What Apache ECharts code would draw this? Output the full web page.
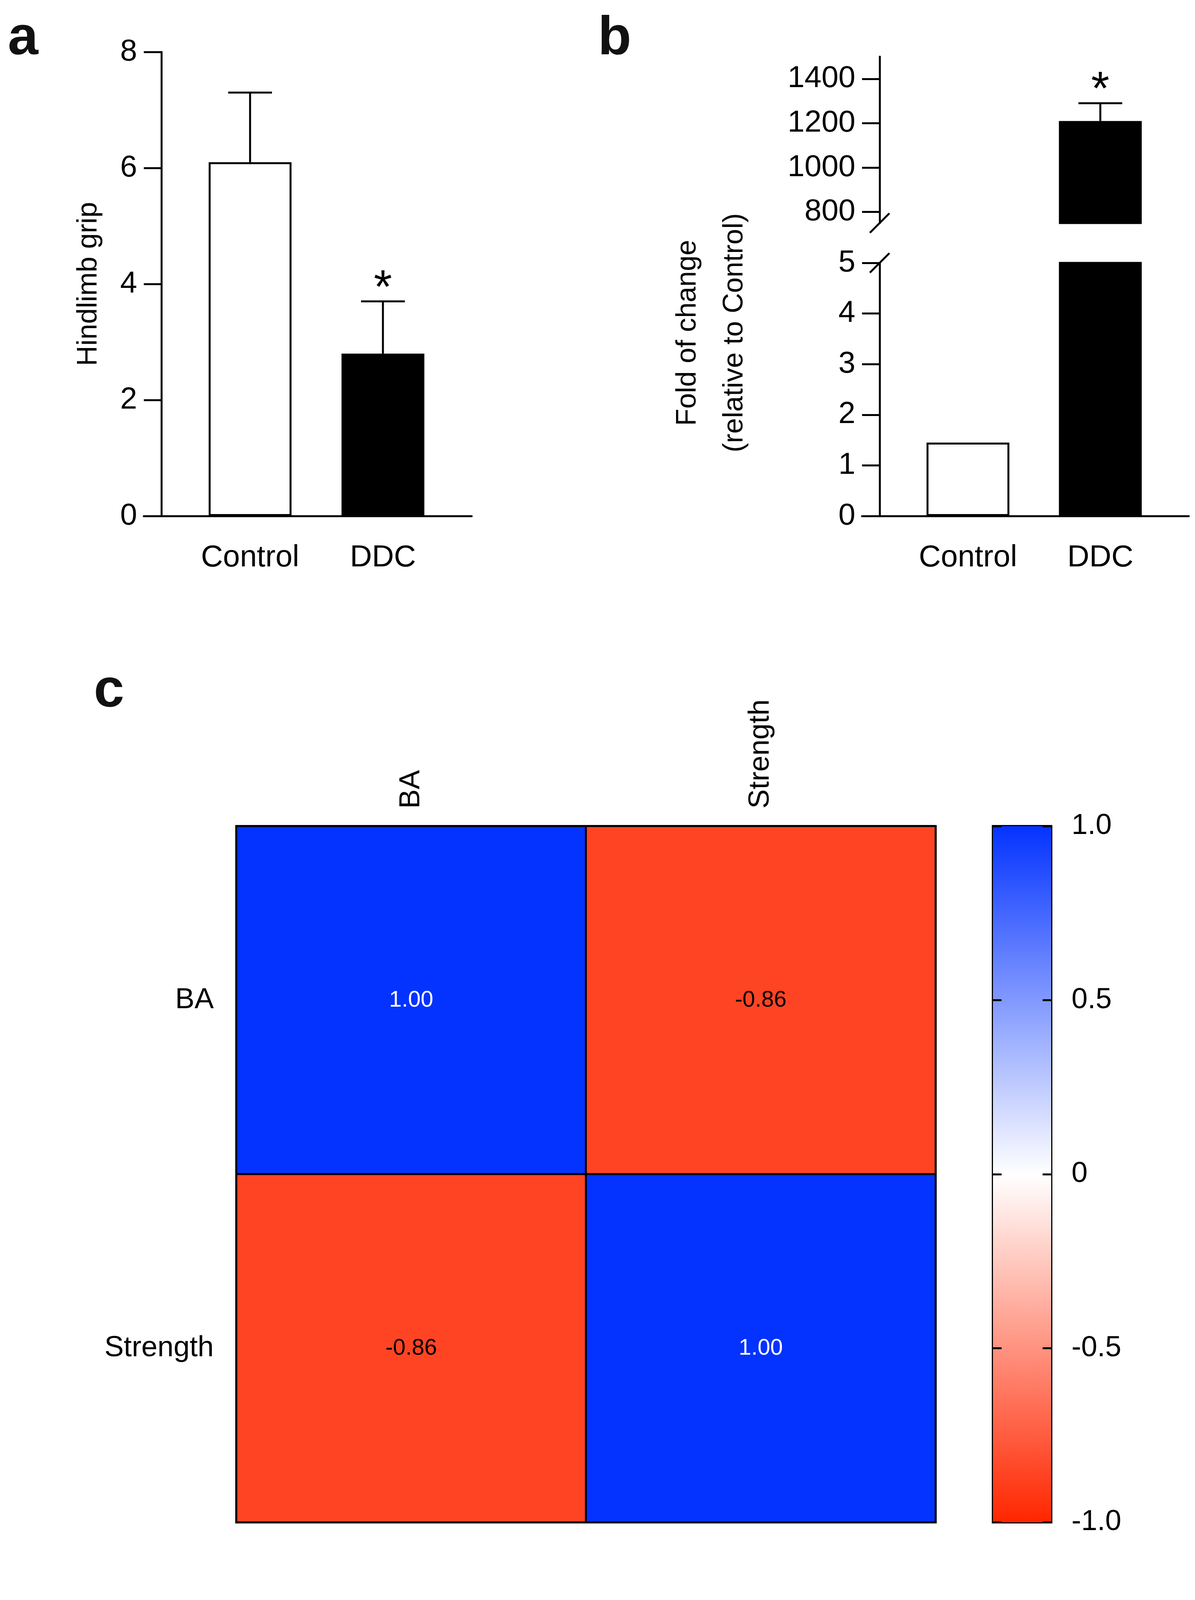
<!DOCTYPE html>
<html>
<head>
<meta charset="utf-8">
<title>Figure S3</title>
<script src="https://cdn.jsdelivr.net/npm/echarts@6/dist/echarts.min.js"></script>
<style>html,body{margin:0;padding:0;background:#fff}</style>
</head>
<body>
<div id="main" style="width:3058px;height:5131px"></div>
<script type="text/javascript">
// panel a
var groups = ['Control', 'DDC']
var gripMean = [6.1, 2.8]
var gripErr = [7.3, 3.7]
var gripStar = [false, true]
// panel b
var foldMean = [1.45, 1210]
var foldErr = [null, 1290]
var foldStar = [false, true]
var lowTicks = [0, 1, 2, 3, 4, 5]
var highTicks = [800, 1000, 1200, 1400]
// panel c
var corrNames = ['BA', 'Strength']
var corrVals = [[0, 0, 1.00], [1, 0, -0.86], [0, 1, -0.86], [1, 1, 1.00]]

var FONT = 'Liberation Sans'
var BLUE = '#0433FF', RED = '#FF2600'
var chart = echarts.init(document.getElementById('main'))

function barData(vals) {
    return vals.map(function (v, i) {
        return {value: [i + 1, v], itemStyle: {color: i == 0 ? '#fff' : '#000'}}
    })
}
function errData(m, e, s) {
    var out = []
    for (var i = 0; i < m.length; i++) if (e[i] != null) out.push([i + 1, m[i], e[i], s[i] ? 1 : 0])
    return out
}
function errItem(params, api) {
    var x = api.value(0)
    var p0 = api.coord([x, api.value(1)])
    var p1 = api.coord([x, api.value(2)])
    var st = {stroke: '#000', lineWidth: 5}
    var kids = [
        {type: 'line', shape: {x1: p0[0], y1: p0[1], x2: p1[0], y2: p1[1]}, style: st},
        {type: 'line', shape: {x1: p1[0] - 56, y1: p1[1], x2: p1[0] + 56, y2: p1[1]}, style: st}
    ]
    if (api.value(3)) kids.push({type: 'text', x: p1[0], y: p1[1] + 30,
        style: {text: '*', fontSize: 120, fontFamily: FONT, textAlign: 'center', textVerticalAlign: 'bottom', fill: '#000'}})
    return {type: 'group', children: kids}
}
function xCat(gi, show) {
    return {
        type: 'value', gridIndex: gi, min: 0.2, max: 2.668, show: show !== false,
        splitLine: {show: false},
        axisLine: {lineStyle: {color: '#000', width: 5}},
        axisTick: {show: false},
        axisLabel: {customValues: [1, 2], formatter: function (v) { return groups[Math.round(v) - 1] },
            fontSize: 78, fontFamily: FONT, color: '#000', margin: 68}
    }
}
function yVal(gi, min, max, ticks, extra) {
    var o = {
        type: 'value', gridIndex: gi, min: min, max: max, offset: -45,
        splitLine: {show: false},
        axisLine: {show: true, onZero: false, lineStyle: {color: '#000', width: 5}},
        axisTick: {show: true, customValues: ticks, length: 45, lineStyle: {color: '#000', width: 5}},
        axisLabel: {customValues: ticks, formatter: function (v) { return String(v) },
            fontSize: 78, fontFamily: FONT, color: '#000', margin: 62}
    }
    for (var k in extra) o[k] = extra[k]
    return o
}
var barStyle = {borderColor: '#000', borderWidth: 5}

function fmt(v) {
    if (v == 0) return '0'
    return Math.abs(v) == 1 ? v.toFixed(1) : String(v)
}

var option = {
    animation: false,
    backgroundColor: '#fff',
    textStyle: {fontFamily: FONT},
    grid: [
        {left: 368, width: 839, top: 133, height: 1188},             // a
        {left: 2206, width: 836, top: 673, height: 648},             // b low
        {left: 2206, width: 836, top: 145, height: 426},             // b high
        {left: 605, width: 1789, top: 2115, height: 1782, show: true, borderColor: '#000', borderWidth: 6}, // heatmap
        {left: 2541, width: 149, top: 2115, height: 1782, show: true, borderColor: '#000', borderWidth: 6}  // colorbar
    ],
    xAxis: [
        xCat(0), xCat(1), xCat(2, false),
        {type: 'category', gridIndex: 3, data: corrNames, position: 'top',
            axisLine: {show: false}, axisTick: {show: false},
            axisLabel: {rotate: -90, fontSize: 74, fontFamily: FONT, color: '#000', margin: 45}},
        {type: 'category', gridIndex: 4, data: ['c'], show: false}
    ],
    yAxis: [
        yVal(0, 0, 8, [0, 2, 4, 6, 8], {name: 'Hindlimb grip', nameLocation: 'middle', nameGap: 150,
            nameTextStyle: {fontSize: 72, fontFamily: FONT, color: '#000'}}),
        yVal(1, 0, 5, lowTicks),
        yVal(2, 750, 1500, highTicks),
        {type: 'category', gridIndex: 3, data: corrNames, inverse: true,
            axisLine: {show: false}, axisTick: {show: false},
            axisLabel: {fontSize: 74, fontFamily: FONT, color: '#000', margin: 58}},
        {type: 'value', gridIndex: 4, min: -1, max: 1, interval: 0.5, position: 'right', z: 10,
            splitLine: {show: false}, axisLine: {show: false},
            axisTick: {show: true, inside: true, length: 22, lineStyle: {color: '#000', width: 5}},
            axisLabel: {formatter: fmt, fontSize: 74, fontFamily: FONT, color: '#000', margin: 52}},
        {type: 'value', gridIndex: 4, min: -1, max: 1, interval: 0.5, position: 'left', z: 10,
            splitLine: {show: false}, axisLine: {show: false}, axisLabel: {show: false},
            axisTick: {show: true, inside: true, length: 22, lineStyle: {color: '#000', width: 5}}}
    ],
    visualMap: {show: false, min: -1, max: 1, seriesIndex: 6, inRange: {color: [RED, '#FFFFFF', BLUE]}},
    series: [
        {type: 'bar', xAxisIndex: 0, yAxisIndex: 0, barWidth: 212, data: barData(gripMean), itemStyle: barStyle},
        {type: 'custom', xAxisIndex: 0, yAxisIndex: 0, renderItem: errItem, data: errData(gripMean, gripErr, gripStar), z: 1},
        {type: 'bar', xAxisIndex: 1, yAxisIndex: 1, barWidth: 212, data: barData(foldMean), itemStyle: barStyle, clip: true},
        {type: 'bar', xAxisIndex: 2, yAxisIndex: 2, barWidth: 212, data: barData(foldMean), itemStyle: barStyle, clip: true},
        {type: 'custom', xAxisIndex: 2, yAxisIndex: 2, renderItem: errItem, data: errData(foldMean, foldErr, foldStar), z: 1, clip: false},
        {type: 'bar', xAxisIndex: 4, yAxisIndex: 4, barWidth: '100%', barGap: '-100%', data: [1], z: 1,
            itemStyle: {color: new echarts.graphic.LinearGradient(0, 0, 0, 1, [{offset: 0, color: BLUE}, {offset: 1, color: '#fff'}])}},
        {type: 'heatmap', xAxisIndex: 3, yAxisIndex: 3,
            data: corrVals.map(function (d) { return {value: d, label: {color: d[2] < 0 ? '#000' : '#fff'}} }),
            itemStyle: {borderColor: '#000', borderWidth: 5},
            label: {show: true, fontSize: 58, fontFamily: FONT,
                formatter: function (p) { return p.value[2].toFixed(2) }}},
        {type: 'bar', xAxisIndex: 4, yAxisIndex: 4, barWidth: '100%', barGap: '-100%', data: [-1], z: 1,
            itemStyle: {color: new echarts.graphic.LinearGradient(0, 0, 0, 1, [{offset: 0, color: '#fff'}, {offset: 1, color: RED}])}}
    ],
    graphic: [
        {type: 'text', left: 20, top: 30, style: {text: 'a', fontSize: 140, fontWeight: 'bold', fontFamily: FONT, fill: '#111'}},
        {type: 'text', left: 1530, top: 30, style: {text: 'b', fontSize: 140, fontWeight: 'bold', fontFamily: FONT, fill: '#111'}},
        {type: 'text', left: 240, top: 1700, style: {text: 'c', fontSize: 140, fontWeight: 'bold', fontFamily: FONT, fill: '#111'}},
        {type: 'text', x: 1820, y: 852, rotation: Math.PI / 2,
            style: {text: 'Fold of change\n(relative to Control)', fontSize: 72, lineHeight: 120, fontFamily: FONT, fill: '#000', textAlign: 'center', textVerticalAlign: 'middle'}},
        {type: 'line', shape: {x1: 2226, y1: 698, x2: 2276, y2: 648}, style: {stroke: '#000', lineWidth: 5}},
        {type: 'line', shape: {x1: 2226, y1: 596, x2: 2276, y2: 546}, style: {stroke: '#000', lineWidth: 5}},
        {type: 'text', x: 1724, y: 4717, style: {text: 'Figure S3', fontSize: 190, fontWeight: 'bold', fontFamily: FONT, fill: '#000', textAlign: 'center', textVerticalAlign: 'middle'}}
    ]
}
chart.setOption(option)
</script>
</body>
</html>
